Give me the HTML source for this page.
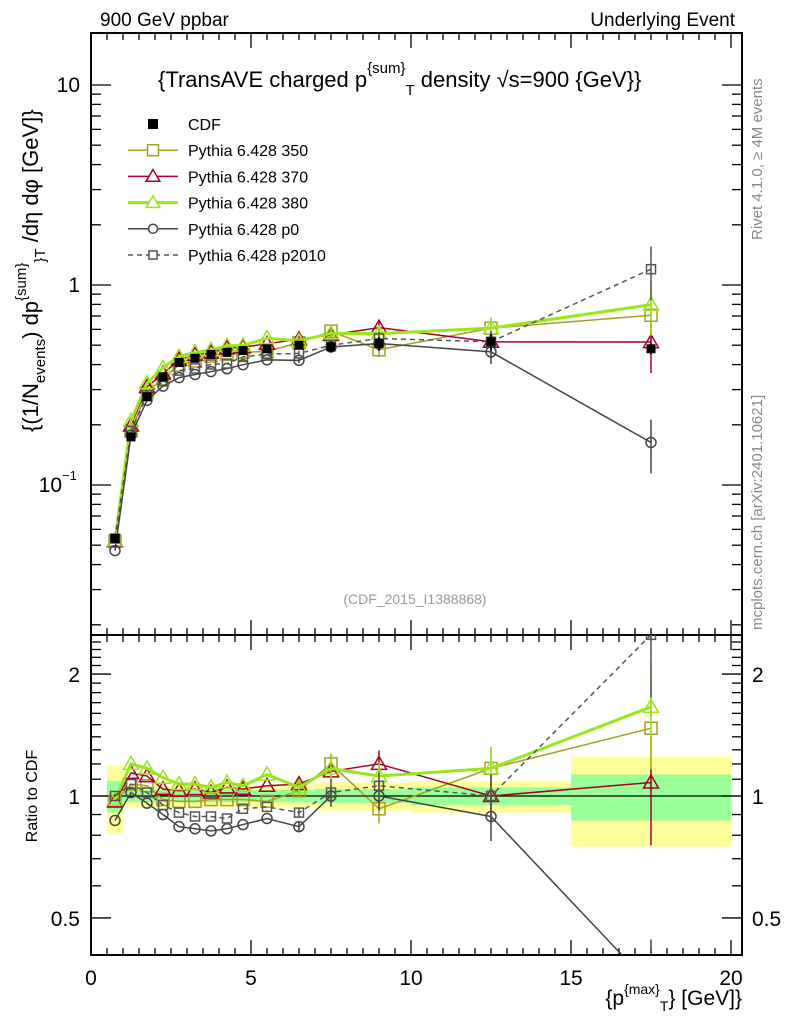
<!DOCTYPE html>
<html><head><meta charset="utf-8"><style>
body{margin:0;background:#fff}
svg text{font-family:"Liberation Sans",sans-serif}
</style></head><body>
<svg id="c" width="786" height="1024" viewBox="0 0 786 1024" xmlns="http://www.w3.org/2000/svg">
<g id="bands"></g><g id="axes"></g><g id="series"></g><g id="labels"></g>
</svg>
<script>
const xs=[0.75,1.25,1.75,2.25,2.75,3.25,3.75,4.25,4.75,5.5,6.5,7.5,9,12.5,17.5];
const cdf=[0.054,0.174,0.276,0.347,0.41,0.43,0.45,0.46,0.47,0.48,0.50,0.49,0.51,0.52,0.48];
const cdfErr=[0.002,0.008,0.01,0.01,0.01,0.01,0.01,0.01,0.01,0.01,0.015,0.03,0.04,0.05,0.03];
const r350=[0.97,1.07,1.06,0.98,0.97,0.97,0.98,0.98,0.98,0.97,1.03,1.2,0.93,1.17,1.47];
const r370=[0.97,1.14,1.12,1.04,1.03,1.04,1.02,1.05,1.04,1.06,1.07,1.15,1.2,1.0,1.08];
const r380=[0.98,1.2,1.17,1.11,1.07,1.07,1.05,1.08,1.06,1.13,1.05,1.17,1.12,1.17,1.66];
const rp0=[0.87,1.02,0.96,0.90,0.84,0.83,0.82,0.83,0.85,0.88,0.84,1.0,1.0,0.89,0.34];
const rp2010=[1.0,1.07,1.02,0.95,0.91,0.89,0.89,0.88,0.93,0.94,0.91,1.02,1.06,1.0,2.5];
const relErr=[0.01,0.01,0.01,0.01,0.01,0.01,0.01,0.01,0.01,0.01,0.03,0.06,0.08,0.13,0.3];
const binLo=[0.5,1,1.5,2,2.5,3,3.5,4,4.5,5,6,7,8,10,15];
const binHi=[1,1.5,2,2.5,3,3.5,4,4.5,5,6,7,8,10,15,20];
const bandY=[0.19,0.06,0.06,0.06,0.06,0.06,0.06,0.06,0.06,0.06,0.06,0.08,0.08,0.09,0.25];
const bandG=[0.09,0.035,0.035,0.035,0.035,0.035,0.035,0.035,0.035,0.035,0.035,0.04,0.04,0.05,0.13];

const NS='http://www.w3.org/2000/svg';
const L=91,R=742,MT=33,MB=635,RT=635,RB=955;
const X=v=>L+32*v;
const Y=v=>285-200*Math.log10(v);
const YR=v=>796-405*Math.log10(v);
function mk(par,tag,at){const e=document.createElementNS(NS,tag);for(const k in at)e.setAttribute(k,at[k]);document.getElementById(par).appendChild(e);return e;}
function txt(par,x,y,s,sz,anchor,fill,rot){const e=mk(par,'text',{x:x,y:y,'font-size':sz,'text-anchor':anchor||'start',fill:fill||'#000'});if(rot)e.setAttribute('transform',`rotate(-90 ${x} ${y})`);e.textContent=s;return e;}

const defs=mk('bands','defs',{});
const c1=document.createElementNS(NS,'clipPath');c1.setAttribute('id','cm');defs.appendChild(c1);
const r1=document.createElementNS(NS,'rect');r1.setAttribute('x',L);r1.setAttribute('y',MT);r1.setAttribute('width',R-L);r1.setAttribute('height',MB-MT);c1.appendChild(r1);
const c2=document.createElementNS(NS,'clipPath');c2.setAttribute('id','cr');defs.appendChild(c2);
const r2=document.createElementNS(NS,'rect');r2.setAttribute('x',L);r2.setAttribute('y',RT);r2.setAttribute('width',R-L);r2.setAttribute('height',RB-RT);c2.appendChild(r2);

for(let i=0;i<binLo.length;i++){
  const b=mk('bands','rect',{x:X(binLo[i]),width:X(binHi[i])-X(binLo[i]),y:YR(1+bandY[i]),height:YR(1-bandY[i])-YR(1+bandY[i]),fill:'#ffff99'});
  
  const g=mk('bands','rect',{x:X(binLo[i]),width:X(binHi[i])-X(binLo[i]),y:YR(1+bandG[i]),height:YR(1-bandG[i])-YR(1+bandG[i]),fill:'#99ff99'});
  
}
let one=mk('axes','line',{x1:L,x2:R,y1:YR(1),y2:YR(1),stroke:'#000','stroke-width':1.3});


for(const [t,b,nm] of [[MT,MB,'main-frame'],[RT,RB,'ratio-frame']]){
  const f=mk('axes','rect',{x:L,y:t,width:R-L,height:b-t,fill:'none',stroke:'#000','stroke-width':2});
  
}
for(let v=0;v<=20.3;v+=0.5){
  const maj=Math.abs(v%5)<1e-9, len=maj?15:7;
  for(const [t,b] of [[MT,MB],[RT,RB]]){
    mk('axes','line',{x1:X(v),x2:X(v),y1:b,y2:b-len,stroke:'#000','stroke-width':1.3});
    mk('axes','line',{x1:X(v),x2:X(v),y1:t,y2:t+len,stroke:'#000','stroke-width':1.3});
  }
  if(maj){const e=txt('labels',X(v),985,String(v),21,'middle');}
}
for(let d=-2;d<=1;d++)for(let m=1;m<10;m++){
  const v=m*Math.pow(10,d),y=Y(v); if(y<MT||y>MB)continue;
  const len=m==1?20:10;
  mk('axes','line',{x1:L,x2:L+len,y1:y,y2:y,stroke:'#000','stroke-width':1.3});
  mk('axes','line',{x1:R,x2:R-len,y1:y,y2:y,stroke:'#000','stroke-width':1.3});
}
let t;
t=txt('labels',80,92,'10',21,'end');
t=txt('labels',80,292,'1',21,'end');
t=txt('labels',62,492,'10',21,'end');
t=txt('labels',62,480,'−1',13,'start');
for(const v of [0.4,0.5,0.6,0.7,0.8,0.9,1,1.1,1.2,1.3,1.4,1.5,1.6,1.7,1.8,1.9,2,2.1,2.2,2.3,2.4,2.5]){
  const y=YR(v); if(y<RT||y>RB)continue;
  const len=(v==0.5||v==1||v==2)?20:10;
  mk('axes','line',{x1:L,x2:L+len,y1:y,y2:y,stroke:'#000','stroke-width':1.3});
  mk('axes','line',{x1:R,x2:R-len,y1:y,y2:y,stroke:'#000','stroke-width':1.3});
}
for(const [v,s] of [[2,'2'],[1,'1'],[0.5,'0.5']]){
  t=txt('labels',80,YR(v)+8,s,21,'end');
  t=txt('labels',752,YR(v)+8,s,21,'start');
}

const series=[
 {n:'pythia-350',r:r350,c:'#a3a021',w:1.5,m:'sq',s:12,dash:null},
 {n:'pythia-370',r:r370,c:'#a8002a',w:1.5,m:'tri',s:13,dash:null},
 {n:'pythia-380',r:r380,c:'#99e61a',w:3,m:'tri',s:13,dash:null},
 {n:'pythia-p0',r:rp0,c:'#444',w:1.5,m:'circ',s:10,dash:null},
 {n:'pythia-p2010',r:rp2010,c:'#555',w:1.5,m:'sq',s:9,dash:'5,4'}
];
function marker(g,m,x,y,s,c,w,fill){
  let e;
  if(m=='sq')e=mk(g,'rect',{x:x-s/2,y:y-s/2,width:s,height:s,fill:fill||'none',stroke:c,'stroke-width':w});
  else if(m=='tri')e=mk(g,'polygon',{points:`${x},${y-s/2-1} ${x-s/2-1},${y+s/2-1} ${x+s/2+1},${y+s/2-1}`,fill:'none',stroke:c,'stroke-width':1.5});
  else e=mk(g,'circle',{cx:x,cy:y,r:s/2,fill:'none',stroke:c,'stroke-width':1.5});
  return e;
}
const gm=mk('series','g',{'clip-path':'url(#cm)'});gm.id='gm';
const gr=mk('series','g',{'clip-path':'url(#cr)'});gr.id='gr';
for(const sr of series){
  const vals=cdf.map((c,i)=>c*sr.r[i]);
  for(const [g,f,arr] of [['gm',Y,vals],['gr',YR,sr.r]]){
    const pts=xs.map((x,i)=>X(x)+','+f(arr[i])).join(' ');
    const pl=mk(g,'polyline',{points:pts,fill:'none',stroke:sr.c,'stroke-width':sr.w});
    if(sr.dash)pl.setAttribute('stroke-dasharray',sr.dash);
    
    
    xs.forEach((x,i)=>{
      const v=arr[i],e=relErr[i]*v;
      if(relErr[i]>0.02){
        mk(g,'line',{x1:X(x),x2:X(x),y1:f(v+e),y2:f(Math.max(v-e,1e-4)),stroke:sr.c,'stroke-width':1.5});
      }
      const mm=marker(g,sr.m,X(x),f(v),sr.s,sr.c,1.5);
      
      
    });
  }
}
xs.forEach((x,i)=>{
  mk('gm','line',{x1:X(x),x2:X(x),y1:Y(cdf[i]+cdfErr[i]),y2:Y(cdf[i]-cdfErr[i]),stroke:'#000','stroke-width':1.5});
  const p=mk('gm','rect',{x:X(x)-4.5,y:Y(cdf[i])-4.5,width:9,height:9,fill:'#000'});
  
  
});

const leg=[['CDF',null],['Pythia 6.428 350',series[0]],['Pythia 6.428 370',series[1]],['Pythia 6.428 380',series[2]],['Pythia 6.428 p0',series[3]],['Pythia 6.428 p2010',series[4]]];
leg.forEach(([lab,sr],i)=>{
  const y=124+26.2*i;
  const g=mk('labels','g',{});
  g.id='leg'+i;
  
  
  if(!sr){mk(g.id,'rect',{x:148,y:y-5,width:10,height:10,fill:'#000'});}
  else{
    const ln=mk(g.id,'line',{x1:128,x2:178,y1:y,y2:y,stroke:sr.c,'stroke-width':sr.w});
    if(sr.dash)ln.setAttribute('stroke-dasharray','5,4');
    marker(g.id,sr.m,153,y,sr.m=='sq'&&sr.s>10?11:sr.s*0.9,sr.c,1.5).setAttribute('fill','#fff');
  }
  txt(g.id,188,y+6,lab,16,'start');
});

t=txt('labels',100,26,'900 GeV ppbar',19);
t=txt('labels',735,26,'Underlying Event',19,'end');
t=document.createElementNS(NS,'text');t.setAttribute('x',158);t.setAttribute('y',87);t.setAttribute('font-size',22);
t.innerHTML='{TransAVE charged p<tspan dy="-14" font-size="15">{sum}</tspan><tspan dy="22" font-size="15">T</tspan><tspan dy="-8"> density √s=900 {GeV}}</tspan>';

document.getElementById('labels').appendChild(t);
t=document.createElementNS(NS,'text');t.setAttribute('x',38);t.setAttribute('y',432);t.setAttribute('font-size',22);t.setAttribute('transform','rotate(-90 38 432)');
t.innerHTML='{(1/N<tspan dy="7" font-size="15">events</tspan><tspan dy="-7">) dp</tspan><tspan dy="-12" font-size="15">{sum}</tspan><tspan dy="19" font-size="15">}</tspan><tspan font-size="15">T</tspan><tspan dy="-7"> /dη  dφ [GeV]}</tspan>';

document.getElementById('labels').appendChild(t);
t=txt('labels',37,796,'Ratio to CDF',16,'middle','#000',true);
t=document.createElementNS(NS,'text');t.setAttribute('x',742);t.setAttribute('y',1005);t.setAttribute('font-size',21);t.setAttribute('text-anchor','end');
t.innerHTML='{p<tspan dy="-11" font-size="14">{max}</tspan><tspan dy="17" font-size="14">T</tspan><tspan dy="-6">} [GeV]}</tspan>';

document.getElementById('labels').appendChild(t);
t=txt('labels',415,604,'(CDF_2015_I1388868)',14,'middle','#999');
t=txt('labels',762,240,'Rivet 4.1.0, ≥ 4M events',15,'start','#888',true);
t=txt('labels',762,630,'mcplots.cern.ch [arXiv:2401.10621]',15,'start','#888',true);
</script>
</body></html>
